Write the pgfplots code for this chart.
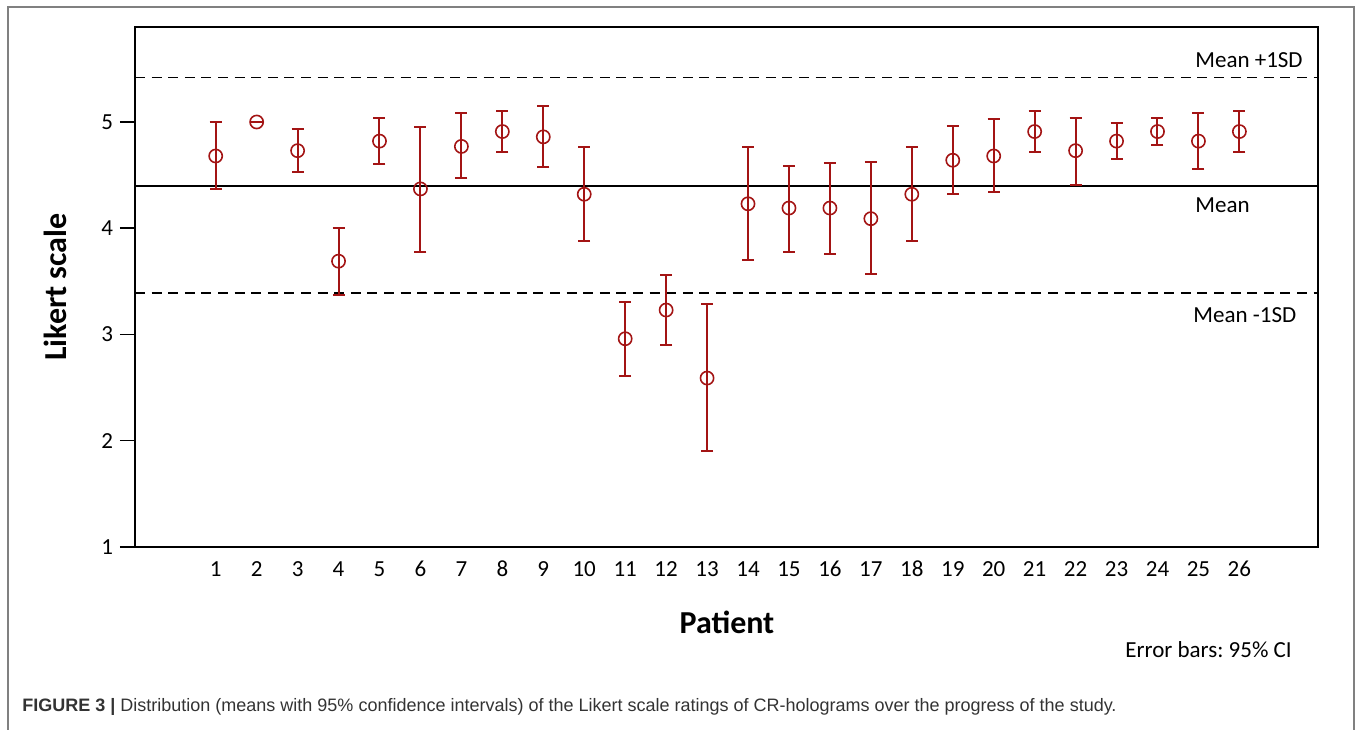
\documentclass[border=0pt]{standalone}
\usepackage{pgfplots}
\pgfplotsset{compat=1.18}
\usepackage{pgfplotstable}
\usepackage{fontspec}
\setmainfont{Carlito}
\newfontfamily\capfont{Liberation Sans}
\definecolor{darkred}{RGB}{163,20,20}
\frenchspacing
\pgfplotstableread{
x m lo hi
1 4.68 4.37 5.00
2 5.00 5.00 5.00
3 4.73 4.53 4.93
4 3.69 3.37 4.00
5 4.82 4.60 5.04
6 4.37 3.78 4.95
7 4.77 4.47 5.08
8 4.91 4.72 5.10
9 4.86 4.58 5.15
10 4.32 3.88 4.76
11 2.96 2.61 3.31
12 3.23 2.90 3.56
13 2.59 1.90 3.29
14 4.23 3.70 4.76
15 4.19 3.78 4.59
16 4.19 3.76 4.61
17 4.09 3.57 4.62
18 4.32 3.88 4.76
19 4.64 4.32 4.96
20 4.68 4.34 5.03
21 4.91 4.72 5.10
22 4.73 4.41 5.04
23 4.82 4.65 4.99
24 4.91 4.78 5.04
25 4.82 4.56 5.08
26 4.91 4.72 5.10
}\data
\begin{document}
\begin{tikzpicture}
\useasboundingbox (0,0) rectangle (680pt,364.5pt);
\draw[black!50, line width=0.8pt] (4pt,-2pt) -- (4pt,361pt) -- (677pt,361pt) -- (677pt,-2pt);
\begin{axis}[
  at={(67.5pt,91pt)}, anchor=south west,
  scale only axis, width=591.5pt, height=260pt,
  xmin=-0.971, xmax=27.92, ymin=1.0, ymax=5.894,
  axis line style={line width=0.75pt},
  xtick={1,...,26}, xtick style={draw=none},
  ytick={1,2,3,4,5}, tick align=outside, ytick pos=left,
  major tick length=7.5pt, ytick style={line width=0.75pt, black},
  tick label style={font=\fontsize{11.5}{14}\selectfont},
  xticklabel style={anchor=base, inner sep=0pt, yshift=-7pt},
  /pgf/number format/assume math mode=true,
  label style={font=\bfseries\fontsize{16}{19}\selectfont},
  xlabel={Patient}, ylabel={Likert scale},
  xlabel style={at={(axis description cs:0.5004,-0.1442)}, anchor=center},
  ylabel style={at={(axis description cs:-0.0676,0.5)}, anchor=center},
  clip=false,
]
\addplot[black, line width=0.85pt, dash pattern=on 5pt off 3.3pt] coordinates {(-0.971,5.42) (27.92,5.42)};
\addplot[black, line width=0.9pt] coordinates {(-0.971,4.40) (27.92,4.40)};
\addplot[black, line width=0.85pt, dash pattern=on 5pt off 3.3pt] coordinates {(-0.971,3.39) (27.92,3.39)};
\addplot[only marks, mark=o, mark size=3.3pt, darkred, mark options={line width=0.8pt, darkred},
  error bars/.cd, y dir=both, y explicit,
  error bar style={line width=1pt, darkred},
  error mark options={rotate=90, line width=1pt, mark size=3pt, darkred}]
  table[x=x, y=m, y error plus expr=\thisrow{hi}-\thisrow{m}, y error minus expr=\thisrow{m}-\thisrow{lo}] {\data};
\end{axis}
\node[anchor=west, inner sep=0, font=\fontsize{11.5}{14}\selectfont] at (597.5pt,334.5pt) {Mean +1SD};
\node[anchor=west, inner sep=0, font=\fontsize{11.5}{14}\selectfont] at (597.5pt,262pt) {Mean};
\node[anchor=west, inner sep=0, font=\fontsize{11.5}{14}\selectfont] at (596.5pt,207pt) {Mean -1SD};
\node[anchor=west, inner sep=0, font=\fontsize{11.5}{14}\selectfont] at (562.5pt,39.5pt) {Error bars: 95\% CI};
\node[anchor=west, inner sep=0, text=black!80, font=\capfont\fontsize{9}{11}\selectfont] at (11pt,11pt) {\textbf{FIGURE 3 |} Distribution (means with 95\% confidence intervals) of the Likert scale ratings of CR-holograms over the progress of the study.};
\end{tikzpicture}
\end{document}
